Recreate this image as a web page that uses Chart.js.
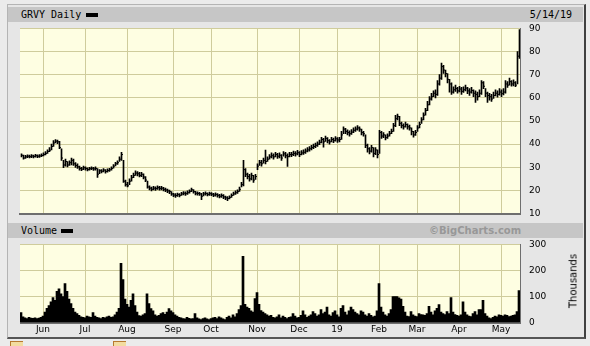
<!DOCTYPE html>
<html>
<head>
<meta charset="utf-8">
<script src="https://cdn.jsdelivr.net/npm/chart.js@4.4.0/dist/chart.umd.min.js"></script>
<style>
  html, body { margin:0; padding:0; }
  body { width:590px; height:346px; overflow:hidden; position:relative; background:#ebebeb; font-family:"DejaVu Sans", sans-serif; }
  #frame { position:absolute; left:7px; top:4px; width:576px; height:332px; background:#e6e6e6;
           border-left:1px solid #b4b4b4; border-top:1px solid #b4b4b4; border-right:2px solid #404040; border-bottom:2px solid #555; }
  .band { position:absolute; left:8px; width:575px; height:15px; background:#c6c6c6; }
  .btxt { position:absolute; top:0; font:10px "DejaVu Sans Mono", monospace; line-height:15px; color:#000; white-space:nowrap; }
  .dash { position:absolute; width:12px; height:4px; background:#000; }
  #bc { position:absolute; left:421px; top:0; font:bold 10px "DejaVu Sans", sans-serif; line-height:15px; color:#989898; }
  canvas { position:absolute; }
  #thou { position:absolute; left:573px; top:281px; font:10px "DejaVu Sans", sans-serif; transform:translate(-50%,-50%) rotate(-90deg); white-space:nowrap; }
  .icon { position:absolute; top:341px; width:12px; height:6px; background:#f3dca0; border-top:1px solid #b87a30; border-left:1px solid #b87a30; }
</style>
</head>
<body>
<div id="frame"></div>
<div class="band" style="top:7px;">
  <span class="btxt" style="left:13px;">GRVY Daily</span>
  <span class="dash" style="left:78px;top:6px;"></span>
  <span class="btxt" style="right:11px;">5/14/19</span>
</div>
<div class="band" style="top:223px;">
  <span class="btxt" style="left:13px;">Volume</span>
  <span class="dash" style="left:53px;top:6px;"></span>
  <span id="bc">©BigCharts.com</span>
</div>
<canvas id="price" width="560" height="199" style="left:20px;top:18px;"></canvas>
<canvas id="vol" width="560" height="100" style="left:20px;top:236px;"></canvas>
<div id="thou">Thousands</div>
<div class="icon" style="left:10px;"></div>
<div class="icon" style="left:113px;"></div>
<script>
// ---- data (one entry per trading day, mid-May 2018 .. 5/14/19) ----
const closes = [
35.2,34.0,34.5,34.8,34.6,34.9,34.7,35.0,34.8,34.9,
35.1,35.5,36.0,36.8,37.4,39.0,40.5,41.3,41.0,38.5,
34.0,31.0,32.5,31.0,32.0,33.0,31.5,30.8,30.2,29.5,
29.2,29.8,29.5,29.0,29.4,29.6,29.3,29.5,27.0,28.5,
28.3,28.8,28.2,28.6,28.9,29.5,30.5,31.5,32.0,33.5,
35.5,24.0,22.5,22.0,24.0,25.5,26.5,27.5,27.2,26.5,
27.0,25.8,24.5,21.5,21.0,20.5,21.0,20.8,21.2,20.9,
21.0,20.5,20.2,19.8,19.5,18.5,18.0,17.8,18.2,17.9,
18.5,18.8,18.6,19.0,19.6,20.3,19.5,18.8,18.7,18.5,
17.5,18.5,18.7,18.3,18.6,18.4,18.0,18.3,17.9,17.5,
17.8,17.2,16.8,16.5,17.0,17.8,18.5,19.0,19.5,20.5,
22.5,29.0,27.0,26.0,25.0,26.5,24.5,26.0,30.5,32.0,
31.5,33.0,32.5,33.5,34.5,35.0,34.5,35.5,34.8,35.2,
34.0,35.8,35.0,34.6,35.5,35.5,36.0,35.8,36.3,35.5,
36.2,36.5,37.0,37.5,38.0,38.5,39.0,39.5,40.0,40.8,
42.0,41.0,42.5,41.5,41.0,42.0,41.5,42.3,41.8,42.0,
44.0,46.5,45.5,45.0,44.5,45.2,46.0,46.5,47.0,46.5,
45.0,44.5,39.5,38.0,37.0,38.5,36.0,37.5,35.5,45.0,
43.5,44.0,42.8,43.5,44.5,45.5,48.0,51.0,52.0,49.0,
48.0,47.5,48.5,47.5,47.0,45.5,44.0,45.0,47.0,48.5,
50.5,52.5,54.5,57.0,59.5,60.5,62.0,61.5,66.0,68.5,
73.5,72.0,70.5,68.0,66.0,62.5,63.5,64.0,63.0,63.8,
62.8,63.5,64.2,63.0,62.5,63.2,62.0,61.5,60.5,62.0,
66.5,65.0,62.0,61.0,60.5,59.5,61.0,62.0,61.5,62.5,
61.8,62.5,66.0,65.5,67.0,66.0,66.5,65.5,78.0,87.5
];
const highs = [
35.8,35.3,35.2,35.4,35.3,35.5,35.3,35.6,35.4,35.5,
35.8,36.2,36.8,37.6,38.5,40.0,41.5,42.0,41.8,41.2,
38.0,33.0,33.5,32.5,32.8,34.0,33.5,32.0,31.5,30.5,
30.0,30.5,30.2,29.8,30.0,30.2,30.0,30.2,29.5,29.0,
29.0,29.5,29.0,29.3,29.6,30.2,31.2,32.2,32.8,34.5,
36.5,33.0,24.5,23.5,25.0,26.5,27.5,28.5,28.2,27.8,
27.8,27.2,26.0,24.0,22.0,21.5,21.8,21.6,22.0,21.8,
21.8,21.3,21.0,20.6,20.2,19.5,18.8,18.6,18.9,18.6,
19.2,19.5,19.4,19.8,20.3,21.0,20.4,19.6,19.4,19.2,
18.8,19.2,19.4,19.0,19.3,19.1,18.8,19.0,18.7,18.3,
18.5,18.2,17.6,17.3,17.7,18.5,19.3,19.8,20.3,21.5,
23.5,33.0,29.5,27.5,27.0,27.5,26.5,27.0,31.5,33.0,
33.0,34.0,37.4,34.5,35.5,36.2,35.8,36.5,36.0,36.2,
35.5,36.8,36.5,35.8,36.5,36.5,37.0,36.8,37.3,36.8,
37.2,37.5,38.0,38.5,39.0,39.5,40.0,40.5,41.0,41.8,
43.0,42.5,43.5,42.8,42.0,43.0,42.6,43.3,42.8,43.0,
45.5,47.5,46.8,46.2,45.8,46.3,47.0,47.5,48.0,47.5,
46.5,45.5,44.0,40.0,38.5,39.5,38.5,38.5,37.5,46.0,
45.5,45.0,44.0,44.5,45.5,46.5,49.0,52.5,53.0,52.0,
49.5,48.8,49.5,48.8,48.2,47.0,45.5,46.0,48.0,49.5,
51.5,53.5,55.5,58.5,60.5,62.0,63.0,63.5,67.5,70.0,
75.0,74.0,72.0,70.5,68.0,66.5,64.8,65.5,64.5,65.0,
64.5,64.8,65.5,64.5,64.0,64.5,63.5,63.0,62.5,63.5,
67.5,67.0,64.0,62.5,62.0,61.5,62.5,63.5,63.0,64.0,
63.5,64.0,67.5,67.0,68.5,67.5,67.8,67.0,80.0,89.5
];
const lows = [
34.5,33.5,33.8,34.2,34.0,34.2,34.1,34.4,34.2,34.3,
34.6,34.9,35.4,36.0,36.8,37.5,39.0,40.5,40.2,38.0,
33.0,29.8,30.5,30.2,30.8,31.0,30.8,30.0,29.5,28.8,
28.5,29.0,28.8,28.4,28.8,29.0,28.6,28.8,25.6,27.2,
27.6,28.0,27.5,27.9,28.2,28.8,29.6,30.6,31.2,32.5,
33.0,23.5,21.8,21.5,22.5,24.0,25.5,26.5,26.3,25.8,
26.0,25.0,23.8,21.0,20.2,19.8,20.2,20.0,20.4,20.1,
20.2,19.8,19.5,19.0,18.6,17.8,17.3,17.0,17.4,17.2,
17.8,18.1,17.9,18.3,18.8,19.5,18.8,18.1,18.0,17.8,
16.0,17.6,18.0,17.6,17.9,17.7,17.3,17.5,17.1,16.8,
17.0,16.5,16.0,15.6,16.3,17.0,17.8,18.3,18.7,19.6,
21.5,22.0,26.0,25.0,24.0,24.5,23.5,24.8,29.0,30.8,
30.5,31.8,31.5,32.5,33.5,34.0,33.5,34.5,33.8,34.0,
33.0,34.8,34.0,30.4,34.5,34.6,35.0,34.8,35.3,34.6,
35.3,35.6,36.0,36.6,37.0,37.5,38.0,38.5,39.0,39.8,
40.5,38.7,41.2,40.5,40.0,41.0,40.6,41.3,40.8,41.0,
42.0,44.5,44.5,44.0,43.5,44.2,45.0,45.5,46.0,45.5,
44.0,43.5,38.5,36.5,35.8,36.5,34.5,35.5,34.0,36.0,
42.5,42.8,41.8,42.5,43.5,44.5,45.5,47.5,50.5,48.0,
47.0,46.5,47.3,46.5,46.0,44.0,43.0,43.8,45.5,47.0,
49.0,50.5,52.5,54.5,57.0,59.0,60.5,60.0,61.0,65.5,
68.0,70.5,69.0,66.5,62.5,61.5,62.0,62.8,62.0,62.6,
61.5,62.3,63.0,61.8,61.0,62.0,60.5,58.0,59.0,60.5,
61.5,64.0,60.5,58.0,59.0,58.5,59.8,60.8,60.3,61.2,
60.5,61.3,62.0,64.5,65.5,65.0,65.2,64.8,66.0,77.0
];
const volumes = [
38,22,18,15,20,17,16,18,15,17,
20,25,40,55,65,80,96,85,120,130,
110,100,150,120,90,73,55,40,35,28,
22,20,18,25,22,20,38,25,20,18,
15,20,18,22,25,20,22,30,40,55,
227,165,90,70,60,85,110,65,40,27,
25,30,35,110,73,54,45,30,25,28,
35,38,32,40,54,45,38,30,25,20,
18,15,14,20,16,14,15,35,18,14,
12,15,18,14,12,15,18,20,15,22,
18,14,12,20,25,18,30,22,35,50,
65,254,70,60,55,45,40,92,115,70,
46,40,35,30,25,28,20,18,22,30,
18,25,20,15,20,22,35,25,18,20,
28,45,30,20,25,30,42,35,25,30,
50,35,40,60,30,25,38,45,30,22,
55,65,40,30,45,60,50,40,35,30,
45,40,30,25,35,28,22,25,45,150,
60,40,30,25,35,50,100,100,100,95,
90,62,40,25,23,42,30,25,23,35,
31,30,28,35,62,40,30,45,55,69,
40,35,31,42,35,96,40,31,28,25,
30,80,40,30,25,23,35,42,30,50,
50,85,35,25,18,15,20,25,22,30,
28,25,30,28,23,25,28,30,42,123
];
const monthStarts = [11,32,53,76,95,118,139,158,179,198,219,240];
const monthLabels = ['Jun','Jul','Aug','Sep','Oct','Nov','Dec','19','Feb','Mar','Apr','May'];
const priceTicks = [10,20,30,40,50,60,70,80,90];
const volumeTicks = [0,100,200,300];

const GRID = '#cfcc9c';
const BG = '#fefee2';
const AXIS = '#6e6e6e';

const bgPlugin = {
  id: 'bg',
  beforeDraw(chart) {
    const { ctx, chartArea: a } = chart;
    ctx.save();
    ctx.fillStyle = BG;
    ctx.fillRect(a.left, a.top, a.right - a.left, a.bottom - a.top);
    ctx.restore();
  }
};

function xScale(showLabels, h, xmin) {
  return {
    type: 'linear', min: xmin, max: xmin + closes.length, offset: false, bounds: 'ticks',
    afterBuildTicks: s => { s.ticks = monthStarts.map(v => ({ value: v })); },
    ticks: {
      display: showLabels, autoSkip: false, maxRotation: 0, minRotation: 0, padding: 2,
      color: '#000', font: { family: 'DejaVu Sans', size: 9 },
      callback: v => monthLabels[monthStarts.indexOf(v)]
    },
    grid: { color: GRID, lineWidth: 1, drawTicks: false, offset: false },
    border: { display: true, color: AXIS, width: 2 },
    afterFit: s => { s.height = h; }
  };
}
function yScale(ticks, w) {
  return {
    type: 'linear', position: 'right',
    min: ticks[0], max: ticks[ticks.length - 1],
    afterBuildTicks: s => { s.ticks = ticks.map(v => ({ value: v })); },
    ticks: { color: '#000', padding: 9, font: { family: 'DejaVu Sans', size: 9 } },
    grid: { color: GRID, lineWidth: 1, drawTicks: false },
    border: { display: true, color: AXIS, width: 1 },
    afterFit: s => { s.width = w; }
  };
}
const baseOpts = {
  responsive: false, maintainAspectRatio: false, animation: false, events: [],
  plugins: { legend: { display: false }, tooltip: { enabled: false } }
};

function priceCfg() {
  return {
    type: 'bar',
    data: {
      datasets: [
        { type: 'bar', data: lows.map((l, i) => ({ x: i, y: [l, highs[i]] })), backgroundColor: '#000',
          borderWidth: 0, barThickness: 1, grouped: false, order: 2 },
        { type: 'line', data: closes.map((c, i) => ({ x: i, y: c })), showLine: false, pointStyle: 'dash',
          pointRadius: 1.5, pointBorderWidth: 1, pointBorderColor: '#000', pointBackgroundColor: '#000', order: 1 }
      ]
    },
    options: Object.assign({}, baseOpts, {
      layout: { padding: { top: 10, left: 0, right: 0, bottom: 0 } },
      scales: { x: xScale(false, 4, -0.75), y: yScale(priceTicks, 59) }
    }),
    plugins: [bgPlugin]
  };
}
function volCfg() {
  return {
    type: 'bar',
    data: {
      datasets: [
        { data: volumes.map((v, i) => ({ x: i, y: v })), backgroundColor: '#000', borderWidth: 0, barThickness: 2 }
      ]
    },
    options: Object.assign({}, baseOpts, {
      layout: { padding: { top: 8, left: 0, right: 0, bottom: 0 } },
      scales: { x: xScale(true, 14, -0.5), y: yScale(volumeTicks, 59) }
    }),
    plugins: [bgPlugin]
  };
}

// place a chart so that its plot area lands on the given box
function place(id, mk, L, T, W, H) {
  const cv = document.getElementById(id);
  let ch = new Chart(cv, mk());
  let a = ch.chartArea;
  const dw = Math.round(W - (a.right - a.left)), dh = Math.round(H - (a.bottom - a.top));
  if (dw !== 0 || dh !== 0) {
    const w0 = ch.width, h0 = ch.height;
    ch.destroy();
    cv.width = w0 + dw; cv.height = h0 + dh;
    cv.style.width = (w0 + dw) + 'px'; cv.style.height = (h0 + dh) + 'px';
    ch = new Chart(cv, mk());
    a = ch.chartArea;
  }
  cv.style.left = Math.round(L - a.left) + 'px';
  cv.style.top = Math.round(T - a.top) + 'px';
  return ch;
}
place('price', priceCfg, 20, 28, 500, 185);
place('vol', volCfg, 20, 244, 500, 78);
</script>
</body>
</html>
